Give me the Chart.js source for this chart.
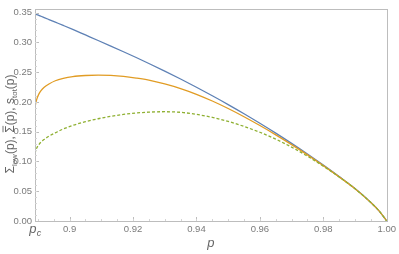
<!DOCTYPE html>
<html>
<head>
<meta charset="utf-8">
<script src="https://cdn.jsdelivr.net/npm/chart.js@4"></script>
<style>
html,body{margin:0;padding:0;background:#fff;}
#wrap{width:399px;height:254px;position:relative;}
</style>
</head>
<body>
<div id="wrap"><canvas id="c" width="399" height="254"></canvas></div>
<script>
// ---- data ----
const pC = 0.8891;
const pValues = [0.8891, 0.8893, 0.8897, 0.8903, 0.891, 0.892, 0.8935, 0.8955, 0.898, 0.901, 0.905, 0.909, 0.913, 0.917, 0.921, 0.925, 0.930, 0.935, 0.940, 0.945, 0.950, 0.955, 0.960, 0.965, 0.970, 0.975, 0.980, 0.985, 0.990, 0.995, 0.9975, 1.000];
const sTot     = [0.348, 0.3476, 0.3467, 0.3454, 0.3438, 0.3416, 0.3383, 0.3339, 0.3284, 0.3217, 0.3124, 0.3031, 0.2937, 0.2842, 0.2745, 0.2645, 0.2517, 0.2384, 0.2246, 0.2103, 0.1955, 0.1801, 0.1641, 0.1475, 0.1303, 0.1124, 0.0938, 0.0745, 0.0544, 0.0310, 0.0175, 0.000];
const sigmaBar = [0.188, 0.197, 0.205, 0.213, 0.219, 0.2245, 0.2300, 0.2355, 0.2395, 0.2425, 0.2443, 0.2450, 0.2445, 0.2428, 0.2400, 0.2365, 0.2302, 0.2224, 0.2128, 0.2015, 0.1889, 0.1751, 0.1603, 0.1447, 0.1283, 0.1111, 0.0930, 0.0741, 0.0542, 0.0309, 0.0175, 0.000];
const sigmaLow = [0.113, 0.118, 0.123, 0.128, 0.1325, 0.137, 0.1425, 0.148, 0.1545, 0.1605, 0.1667, 0.1717, 0.1758, 0.1790, 0.1813, 0.1828, 0.1835, 0.1825, 0.1790, 0.1740, 0.1672, 0.1588, 0.1490, 0.1375, 0.1240, 0.1088, 0.0920, 0.0738, 0.0541, 0.0309, 0.0175, 0.000];
const xTickValues = [pC, 0.90, 0.92, 0.94, 0.96, 0.98, 1.00];
const xTickLabels = ["", "0.9", "0.92", "0.94", "0.96", "0.98", "1.00"];
const yTickValues = [0, 0.05, 0.10, 0.15, 0.20, 0.25, 0.30, 0.35];
const yTickLabels = ["0.00", "0.05", "0.10", "0.15", "0.20", "0.25", "0.30", "0.35"];
const xMinorStep = 0.005;
const yMinorStep = 0.01;

const toXY = arr => pValues.map((p, i) => ({x: p, y: arr[i]}));

const FONT = "'Liberation Sans', 'DejaVu Sans', sans-serif";
const TICK_COLOR = '#7a7a7a';
const FRAME_COLOR = '#bdbdbd';

const framePlugin = {
  id: 'frameTicks',
  afterDraw(chart) {
    const {ctx, chartArea: a, scales: {x, y}} = chart;
    ctx.save();
    ctx.strokeStyle = FRAME_COLOR;
    ctx.lineWidth = 1;
    ctx.strokeRect(Math.round(a.left) + 0.5, Math.round(a.top) + 0.5, Math.round(a.right - a.left), Math.round(a.bottom - a.top));
    // major ticks
    ctx.beginPath();
    xTickValues.forEach(v => {
      const px = Math.round(x.getPixelForValue(v)) + 0.5;
      ctx.moveTo(px, a.bottom); ctx.lineTo(px, a.bottom - 4);
    });
    yTickValues.forEach(v => {
      const py = Math.round(y.getPixelForValue(v)) + 0.5;
      ctx.moveTo(a.left, py); ctx.lineTo(a.left + 4, py);
    });
    ctx.stroke();
    // minor ticks
    ctx.strokeStyle = '#d4d4d4';
    ctx.beginPath();
    for (let v = 0.89; v < 1.0; v += xMinorStep) {
      if (v < pC) continue;
      const px = Math.round(x.getPixelForValue(v)) + 0.5;
      ctx.moveTo(px, a.bottom); ctx.lineTo(px, a.bottom - 2);
    }
    for (let v = yMinorStep; v < 0.356; v += yMinorStep) {
      const py = Math.round(y.getPixelForValue(v)) + 0.5;
      ctx.moveTo(a.left, py); ctx.lineTo(a.left + 2, py);
    }
    ctx.stroke();

    // p_c label
    ctx.fillStyle = '#666';
    ctx.textBaseline = 'alphabetic';
    const pcx = x.getPixelForValue(pC);
    ctx.font = "italic 13px " + FONT;
    const wp = ctx.measureText('p').width;
    ctx.font = "italic 9px " + FONT;
    const wc = ctx.measureText('c').width;
    let sx = pcx - (wp + wc) / 2;
    ctx.font = "italic 13px " + FONT;
    ctx.fillText('p', sx, 233);
    ctx.font = "italic 9px " + FONT;
    ctx.fillText('c', sx + wp + 0.5, 236);

    // x axis title
    ctx.font = "italic 13px " + FONT;
    ctx.textAlign = 'center';
    ctx.fillText('p', (a.left + a.right) / 2, 247);
    ctx.textAlign = 'left';

    // y axis title (rotated)
    const parts = [
      {t: 'Σ', f: "12px " + FONT, dy: 0},
      {t: 'low', f: "8px " + FONT, dy: 3},
      {t: '(p), ', f: "12px " + FONT, dy: 0},
      {t: 'Σ', f: "12px " + FONT, dy: 0, bar: true},
      {t: '(p), ', f: "12px " + FONT, dy: 0},
      {t: 's', f: "12px " + FONT, dy: 0},
      {t: 'tot', f: "8px " + FONT, dy: 3},
      {t: '(p)', f: "12px " + FONT, dy: 0}
    ];
    let total = 0;
    parts.forEach(p => { ctx.font = p.f; p.w = ctx.measureText(p.t).width; total += p.w; });
    ctx.translate(14, 124);
    ctx.rotate(-Math.PI / 2);
    let cx = -total / 2;
    ctx.strokeStyle = '#666';
    parts.forEach(p => {
      ctx.font = p.f;
      ctx.fillText(p.t, cx, p.dy);
      if (p.bar) {
        ctx.beginPath();
        ctx.lineWidth = 0.9;
        ctx.moveTo(cx + 0.5, -11); ctx.lineTo(cx + p.w - 0.5, -11);
        ctx.stroke();
      }
      cx += p.w;
    });
    ctx.restore();
  }
};

new Chart(document.getElementById('c'), {
  type: 'line',
  data: {
    datasets: [
      {label: 'stot', data: toXY(sTot), borderColor: '#5E81B5', borderWidth: 1.3, order: 3},
      {label: 'sigmaBar', data: toXY(sigmaBar), borderColor: '#E19C24', borderWidth: 1.3, order: 2},
      {label: 'sigmaLow', data: toXY(sigmaLow), borderColor: '#8FB032', borderWidth: 1.3, borderDash: [3, 2], order: 1}
    ]
  },
  options: {
    responsive: false,
    animation: false,
    devicePixelRatio: 1,
    layout: {padding: {top: 2, right: 8, left: 0, bottom: 0}},
    elements: {
      point: {radius: 0},
      line: {cubicInterpolationMode: 'monotone', fill: false}
    },
    plugins: {legend: {display: false}, tooltip: {enabled: false}},
    scales: {
      x: {
        type: 'linear',
        min: pC, max: 1.0,
        afterBuildTicks: s => { s.ticks = xTickValues.map(v => ({value: v})); },
        afterFit: s => { s.height = 33; },
        grid: {display: false, drawTicks: false},
        border: {display: false},
        ticks: {
          autoSkip: false, maxRotation: 0, padding: 3,
          color: TICK_COLOR, font: {family: FONT, size: 9.5},
          callback: (v, i) => xTickLabels[i]
        }
      },
      y: {
        type: 'linear',
        min: 0, max: 0.3565,
        afterBuildTicks: s => { s.ticks = yTickValues.map(v => ({value: v})); },
        afterFit: s => { s.width = 35; },
        grid: {display: false, drawTicks: false},
        border: {display: false},
        ticks: {
          autoSkip: false, padding: 3,
          color: TICK_COLOR, font: {family: FONT, size: 9.5},
          callback: (v, i) => yTickLabels[i]
        }
      }
    }
  },
  plugins: [framePlugin]
});
</script>
</body>
</html>
